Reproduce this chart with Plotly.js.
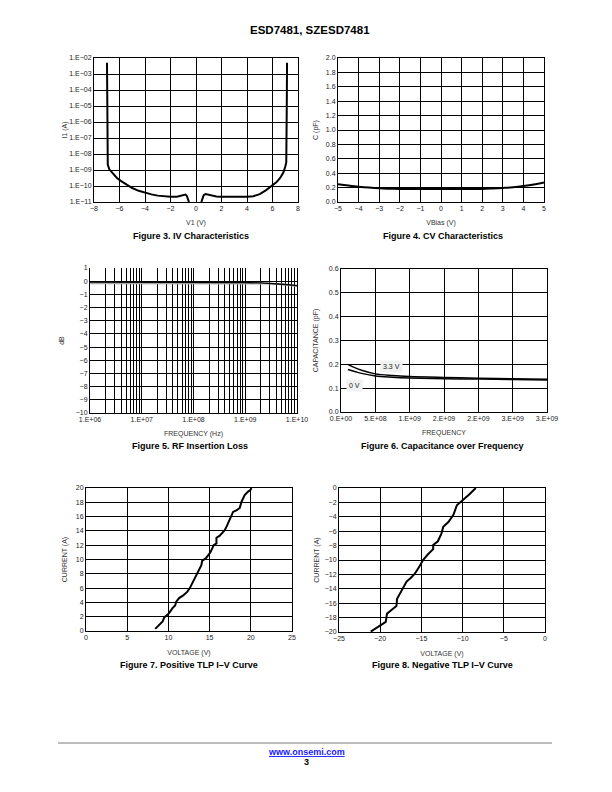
<!DOCTYPE html>
<html>
<head>
<meta charset="utf-8">
<script src="https://cdn.plot.ly/plotly-3.0.1.min.js"></script>
<style>html,body{margin:0;padding:0;background:#fff;}#chart{width:612px;height:792px;}</style>
</head>
<body>
<div id="chart"></div>
<script>
// ---------------- DATA ----------------
// Figure 3. IV Characteristics
const ivLeftV  = [-6.98, -6.95, -6.92, -6.8, -6.5, -6.2, -5.9, -5.5, -5.0, -4.5, -4.0, -3.5, -3.0, -2.5, -2.0, -1.5, -1.15, -0.95, -0.82, -0.72, -0.62, -0.55];
const ivLeftI  = [5e-3, 1e-5, 2.2e-9, 1.1e-9, 5.5e-10, 3.2e-10, 2.1e-10, 1.3e-10, 7.5e-11, 5e-11, 3.7e-11, 3e-11, 2.5e-11, 2.25e-11, 2.1e-11, 2.1e-11, 2.4e-11, 2.8e-11, 2.9e-11, 2.4e-11, 1.5e-11, 1e-11];
const ivRightV = [0.42, 0.5, 0.6, 0.75, 0.9, 1.2, 1.6, 2.0, 2.5, 3.0, 3.5, 4.0, 4.5, 5.0, 5.5, 6.0, 6.3, 6.6, 6.85, 7.0, 7.08, 7.12, 7.14];
const ivRightI = [1e-11, 1.8e-11, 2.7e-11, 3.1e-11, 2.9e-11, 2.5e-11, 2.2e-11, 2.1e-11, 2.05e-11, 2.05e-11, 2.05e-11, 2.1e-11, 2.3e-11, 3.1e-11, 5.5e-11, 1.05e-10, 1.7e-10, 3.2e-10, 7e-10, 1.6e-9, 3e-9, 1e-5, 5e-3];
const ivYTickVals = [1e-11, 1e-10, 1e-9, 1e-8, 1e-7, 1e-6, 1e-5, 1e-4, 1e-3, 1e-2];
const ivYTickText = ["1.E\u221211", "1.E\u221210", "1.E\u221209", "1.E\u221208", "1.E\u221207", "1.E\u221206", "1.E\u221205", "1.E\u221204", "1.E\u221203", "1.E\u221202"];

// Figure 4. CV Characteristics
const cvBias = [-5, -4.5, -4, -3.5, -3, -2.5, -2, -1, 0, 1, 2, 2.5, 3, 3.5, 4, 4.5, 5];
const cvCap  = [0.248, 0.228, 0.213, 0.2, 0.19, 0.185, 0.182, 0.18, 0.18, 0.18, 0.182, 0.188, 0.196, 0.206, 0.222, 0.243, 0.272];

// Figure 5. RF Insertion Loss
const rfFreq   = [1e6, 3e6, 1e7, 3e7, 1e8, 3e8, 1e9, 2e9, 3e9, 5e9, 7e9, 1e10];
const rfLoss   = [-0.07, -0.07, -0.07, -0.07, -0.07, -0.08, -0.1, -0.13, -0.16, -0.22, -0.27, -0.33];
const rfLossB  = [-0.15, -0.15, -0.15, -0.15, -0.15, -0.15, -0.14, -0.15, -0.18, -0.24, -0.29, -0.36];
const rfDecades = [1e6, 1e7, 1e8, 1e9, 1e10];
const rfDecadeText = ["1.E+06", "1.E+07", "1.E+08", "1.E+09", "1.E+10"];
const rfMinorMult = [2, 3, 4, 5, 6, 7, 8, 9];
const rfYTicks = [-10, -9, -8, -7, -6, -5, -4, -3, -2, -1, 0, 1];
const rfYGrid  = [-9, -8, -7, -6, -5, -4, -3, -2, -1, 0];

// Figure 6. Capacitance over Frequency
const capFreq = [1e8, 2e8, 3e8, 5e8, 7.5e8, 1e9, 1.5e9, 2e9, 2.5e9, 3e9];
const cap33V  = [0.2, 0.186, 0.175, 0.16, 0.153, 0.149, 0.145, 0.142, 0.139, 0.137];
const cap0V   = [0.178, 0.17, 0.162, 0.151, 0.146, 0.143, 0.14, 0.138, 0.136, 0.134];
const capXTickVals = [0, 5e8, 1e9, 1.5e9, 2e9, 2.5e9, 3e9];
const capXTickText = ["0.E+00", "5.E+08", "1.E+09", "2.E+09", "2.E+09", "3.E+09", "3.E+09"];
const capLabels = ["3.3 V", "0 V"];
const capLabelX = [7.4e8, 2.0e8];
const capLabelY = [0.189, 0.113];

// Figure 7. Positive TLP I-V Curve
const tlpPosV = [8.4, 8.9, 9.3, 9.5, 10.06, 10.5, 10.82, 10.95, 11.3, 11.8, 12.3, 12.6, 12.8, 13.0, 13.3, 13.6, 14.0, 14.1, 14.6, 15.1, 15.5, 15.83, 15.83, 16.2, 16.5, 16.84, 17.1, 17.33, 17.65, 17.85, 18.3, 18.66, 18.86, 19.26, 19.67, 19.95, 20.07];
const tlpPosI = [0.3, 0.9, 1.35, 1.9, 2.46, 3.2, 3.57, 4.1, 4.6, 4.97, 5.5, 6.0, 6.45, 7.0, 7.6, 8.3, 9.2, 9.8, 10.25, 11.0, 12.0, 12.25, 13.04, 13.3, 13.7, 14.1, 14.7, 15.3, 16.2, 16.66, 16.9, 17.2, 18.05, 19.0, 19.5, 19.7, 20.0];

// Figure 8. Negative TLP I-V Curve
const tlpNegV = [-21.15, -20.6, -20.06, -19.6, -19.33, -19.17, -18.6, -18.03, -17.95, -17.4, -16.8, -16.3, -15.8, -15.3, -14.8, -14.2, -13.57, -13.57, -13.0, -12.56, -12.35, -11.7, -11.1, -10.7, -10.3, -9.9, -9.2, -8.4];
const tlpNegI = [-19.95, -19.5, -19.07, -18.8, -18.6, -17.45, -16.9, -16.4, -15.4, -14.2, -13.0, -12.5, -11.9, -11.0, -10.0, -9.2, -8.5, -7.9, -7.4, -6.3, -5.4, -4.7, -3.7, -2.4, -2.0, -1.7, -0.9, 0];

// Text
const pageTitle = "ESD7481, SZESD7481";
const captions = ["Figure 3. IV Characteristics", "Figure 4. CV Characteristics", "Figure 5. RF Insertion Loss", "Figure 6. Capacitance over Frequency", "Figure 7. Positive TLP I\u2013V Curve", "Figure 8. Negative TLP I\u2013V Curve"];
const xTitles = ["V1 (V)", "VBias (V)", "FREQUENCY (Hz)", "FREQUENCY", "VOLTAGE (V)", "VOLTAGE (V)"];
const yTitles = ["I1 (A)", "C (pF)", "dB", "CAPACITANCE (pF)", "CURRENT (A)", "CURRENT (A)"];
const footerUrl = "www.onsemi.com";
const pageNumber = "3";

// ---------------- LAYOUT ----------------
const W = 612, H = 792;
const FONT = "'Liberation Sans', Arial, Helvetica, sans-serif";
// plot boxes in page pixels [x0, x1, y0, y1]
const boxes = [
  [94, 298, 58, 202],
  [338, 544, 58, 202],
  [90, 297, 268, 413],
  [341, 547, 269, 412],
  [86, 292, 488, 631],
  [339, 545, 488, 632]
];
const captionPos = [[191, 236], [443, 236], [190, 446], [442, 446], [189, 665], [442, 665]];
const xStand = [8, 8, 8, 8, 9, 9];
const yStand = [0, 6, 10, 9, 7, 4];

function baseAxis() {
  return {
    showline: true, linecolor: '#000', linewidth: 1, mirror: true,
    showgrid: true, gridcolor: '#000', gridwidth: 1,
    zeroline: false, ticks: '', fixedrange: true,
    tickfont: {family: FONT, size: 7, color: '#222'}
  };
}

const layout = {
  width: W, height: H,
  margin: {l: 0, r: 0, t: 0, b: 0},
  paper_bgcolor: '#fff', plot_bgcolor: '#fff',
  showlegend: false,
  annotations: [], shapes: []
};

for (let k = 0; k < 6; k++) {
  const b = boxes[k];
  const xa = baseAxis(), ya = baseAxis();
  const n = k === 0 ? '' : String(k + 1);
  xa.domain = [b[0] / W, b[1] / W];
  ya.domain = [1 - b[3] / H, 1 - b[2] / H];
  xa.anchor = 'y' + n; ya.anchor = 'x' + n;
  xa.title = {text: xTitles[k], font: {family: FONT, size: 7, color: '#333'}, standoff: xStand[k]};
  ya.title = {text: yTitles[k], font: {family: FONT, size: 7, color: '#333'}, standoff: yStand[k]};
  xa.automargin = false; ya.automargin = false;
  layout['xaxis' + n] = xa;
  layout['yaxis' + n] = ya;
  layout.annotations.push({
    text: '<b>' + captions[k] + '</b>', xref: 'paper', yref: 'paper',
    x: captionPos[k][0] / W, y: 1 - captionPos[k][1] / H, xanchor: 'center', yanchor: 'middle',
    showarrow: false, font: {family: FONT, size: 9, color: '#000'}
  });
}

// Fig 3 axes
Object.assign(layout.xaxis, {range: [-8, 8], tickmode: 'linear', tick0: -8, dtick: 2});
Object.assign(layout.yaxis, {type: 'log', range: [-11, -2], tickmode: 'array', tickvals: ivYTickVals, ticktext: ivYTickText});
// Fig 4 axes
Object.assign(layout.xaxis2, {range: [-5, 5], tickmode: 'linear', tick0: -5, dtick: 1});
Object.assign(layout.yaxis2, {range: [0, 2], tickmode: 'linear', tick0: 0, dtick: 0.2, tickformat: '.1f'});
// Fig 5 axes
const rfTickVals = [], rfTickText = [];
rfDecades.forEach((d, i) => {
  rfTickVals.push(d); rfTickText.push(rfDecadeText[i]);
  if (i < rfDecades.length - 1) rfMinorMult.forEach(m => { rfTickVals.push(d * m); rfTickText.push(''); });
});
Object.assign(layout.xaxis3, {type: 'log', range: [6, 10], tickmode: 'array', tickvals: rfTickVals, ticktext: rfTickText, mirror: false});
Object.assign(layout.yaxis3, {range: [-10, 1], tickmode: 'array', tickvals: rfYTicks, showgrid: false,
  minor: {tickmode: 'array', tickvals: rfYGrid, showgrid: true, gridcolor: '#000', gridwidth: 1, ticks: ''}});
// Fig 6 axes
Object.assign(layout.xaxis4, {range: [0, 3e9], tickmode: 'array', tickvals: capXTickVals, ticktext: capXTickText});
Object.assign(layout.yaxis4, {range: [0, 0.6], tickmode: 'linear', tick0: 0, dtick: 0.1, tickformat: '.1f'});
// Fig 7 axes
Object.assign(layout.xaxis5, {range: [0, 25], tickmode: 'linear', tick0: 0, dtick: 5});
Object.assign(layout.yaxis5, {range: [0, 20], tickmode: 'linear', tick0: 0, dtick: 2});
// Fig 8 axes
Object.assign(layout.xaxis6, {range: [-25, 0], tickmode: 'linear', tick0: -25, dtick: 5});
Object.assign(layout.yaxis6, {range: [-20, 0], tickmode: 'linear', tick0: -20, dtick: 2});

// Fig 6 curve labels
capLabels.forEach((t, i) => {
  layout.annotations.push({
    text: t, xref: 'x4', yref: 'y4', x: capLabelX[i], y: capLabelY[i],
    showarrow: false, bgcolor: '#f1f1f1', borderpad: 2,
    font: {family: FONT, size: 7, color: '#222'}
  });
});

// Header / footer
layout.annotations.push({
  text: '<b>' + pageTitle + '</b>', xref: 'paper', yref: 'paper', x: 310 / W, y: 1 - 30 / H,
  xanchor: 'center', yanchor: 'middle', showarrow: false, font: {family: FONT, size: 11.5, color: '#000'}
});
layout.annotations.push({
  text: '<a href="http://www.onsemi.com" style="color:#1a1aff"><b><span style="text-decoration:underline">' + footerUrl + '</span></b></a>',
  xref: 'paper', yref: 'paper', x: 306 / W, y: 1 - 752 / H,
  xanchor: 'center', yanchor: 'middle', showarrow: false, font: {family: FONT, size: 9, color: '#1a1aff'}
});
layout.annotations.push({
  text: '<b>' + pageNumber + '</b>', xref: 'paper', yref: 'paper', x: 306 / W, y: 1 - 762 / H,
  xanchor: 'center', yanchor: 'middle', showarrow: false, font: {family: FONT, size: 9, color: '#000'}
});
layout.shapes.push({
  type: 'line', xref: 'paper', yref: 'paper', x0: 58 / W, x1: 552 / W, y0: 1 - 743 / H, y1: 1 - 743 / H,
  line: {color: '#bdbdbd', width: 2}
});

// ---------------- TRACES ----------------
const line = (w, c) => ({color: c || '#000', width: w});
const data = [
  {x: ivLeftV, y: ivLeftI, xaxis: 'x', yaxis: 'y', mode: 'lines', line: line(2), hoverinfo: 'skip'},
  {x: ivRightV, y: ivRightI, xaxis: 'x', yaxis: 'y', mode: 'lines', line: line(2), hoverinfo: 'skip'},
  {x: cvBias, y: cvCap, xaxis: 'x2', yaxis: 'y2', mode: 'lines', line: {color: '#000', width: 2, shape: 'spline'}, hoverinfo: 'skip'},
  {x: rfFreq, y: rfLossB, xaxis: 'x3', yaxis: 'y3', mode: 'lines', line: line(2, '#a8a8a8'), hoverinfo: 'skip'},
  {x: rfFreq, y: rfLoss, xaxis: 'x3', yaxis: 'y3', mode: 'lines', line: line(1.3), hoverinfo: 'skip'},
  {x: capFreq, y: cap33V, xaxis: 'x4', yaxis: 'y4', mode: 'lines', line: {color: '#000', width: 1.5, shape: 'spline'}, hoverinfo: 'skip'},
  {x: capFreq, y: cap0V, xaxis: 'x4', yaxis: 'y4', mode: 'lines', line: {color: '#000', width: 1.5, shape: 'spline'}, hoverinfo: 'skip'},
  {x: tlpPosV, y: tlpPosI, xaxis: 'x5', yaxis: 'y5', mode: 'lines', line: line(2), hoverinfo: 'skip'},
  {x: tlpNegV, y: tlpNegI, xaxis: 'x6', yaxis: 'y6', mode: 'lines', line: line(2), hoverinfo: 'skip'}
];

Plotly.newPlot('chart', data, layout, {staticPlot: true, displayModeBar: false});
</script>
</body>
</html>
